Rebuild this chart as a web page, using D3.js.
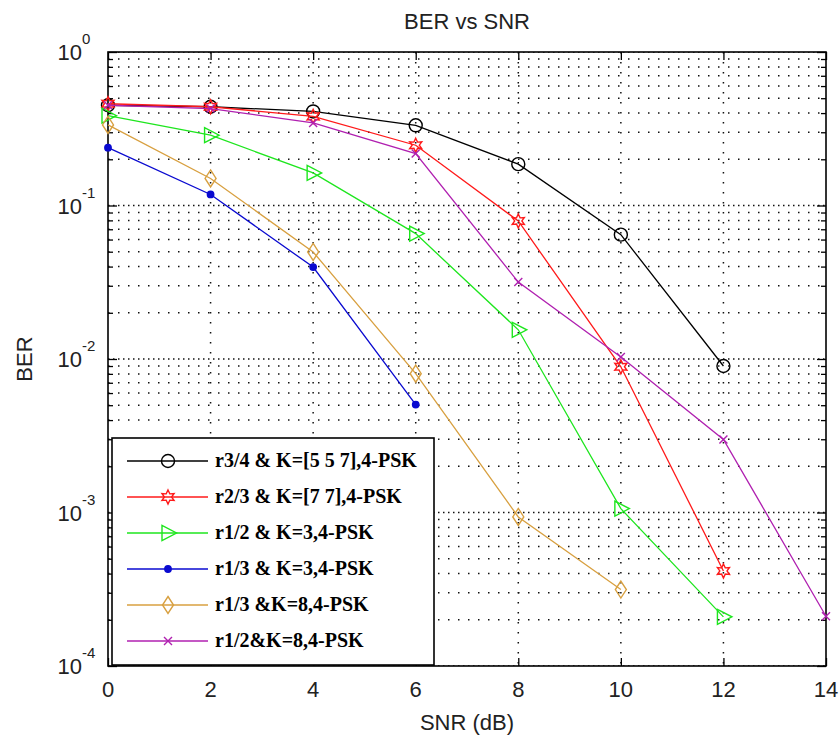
<!DOCTYPE html>
<html>
<head>
<meta charset="utf-8">
<script src="https://cdn.jsdelivr.net/npm/d3@7"></script>
<style>
  body { margin: 0; background: #fff; }
  text { font-family: "Liberation Sans", Arial, sans-serif; fill: #222; }
  .leg text { font-family: "Liberation Serif", "Times New Roman", serif; font-weight: bold; fill: #000; }
</style>
</head>
<body>
<div class="canvas"></div>
<script>
const snr = [0, 2, 4, 6, 8, 10, 12, 14];
const xTicks = [0, 2, 4, 6, 8, 10, 12, 14];
const yDecades = [1, 0.1, 0.01, 0.001, 0.0001];

// BER values (each starts at SNR 0)
const berR34K557 = [0.45, 0.44, 0.41, 0.333, 0.186, 0.0646, 0.009];
const berR23K77 = [0.46, 0.44, 0.381, 0.247, 0.0793, 0.0089, 0.000416];
const berR12K3 = [0.385, 0.287, 0.163, 0.0656, 0.0155, 0.00106, 0.000209];
const berR13K3 = [0.238, 0.118, 0.0397, 0.00505];
const berR13K8 = [0.335, 0.15, 0.0498, 0.00803, 0.000935, 0.000315];
const berR12K8 = [0.45, 0.428, 0.345, 0.218, 0.0317, 0.0103, 0.00299, 0.000211];

const labels = [
  'r3/4 & K=[5 5 7],4-PSK',
  'r2/3 & K=[7 7],4-PSK',
  'r1/2 & K=3,4-PSK',
  'r1/3 & K=3,4-PSK',
  'r1/3 &K=8,4-PSK',
  'r1/2&K=8,4-PSK'
];

const series = [
  { name: labels[0], ber: berR34K557, color: '#000000', marker: 'circle' },
  { name: labels[1], ber: berR23K77, color: '#ff1a1a', marker: 'star' },
  { name: labels[2], ber: berR12K3, color: '#1ee61e', marker: 'tri' },
  { name: labels[3], ber: berR13K3, color: '#0a0ad0', marker: 'dot' },
  { name: labels[4], ber: berR13K8, color: '#d8a040', marker: 'diamond' },
  { name: labels[5], ber: berR12K8, color: '#b020b0', marker: 'x' }
];

const W = 840, H = 742;
const pLeft = 108, pRight = 826, pTop = 52, pBottom = 666;

const svg = d3.select('.canvas').append('svg')
  .attr('width', W).attr('height', H);

const x = d3.scaleLinear().domain([0, 14]).range([pLeft, pRight]);
const y = d3.scaleLog().domain([1e-4, 1]).range([pBottom, pTop]);

const allTicks = y.ticks();
const minorTicks = allTicks.filter(v => !yDecades.some(d => Math.abs(d - v) / d < 1e-6));

svg.append('defs').append('clipPath').attr('id', 'clip')
  .append('rect').attr('x', pLeft).attr('y', pTop).attr('width', pRight - pLeft).attr('height', pBottom - pTop);

// dotted grid
const grid = svg.append('g').attr('clip-path', 'url(#clip)')
  .attr('stroke', '#111').attr('stroke-width', 1.5).attr('stroke-dasharray', '1.5 8.5');

grid.selectAll('.hg').data(allTicks).join('line')
  .attr('x1', pLeft).attr('x2', pRight)
  .attr('y1', d => y(d)).attr('y2', d => y(d));
grid.selectAll('.hg2').data(yDecades).join('line')
  .attr('x1', pLeft + 5).attr('x2', pRight)
  .attr('y1', d => y(d)).attr('y2', d => y(d));
grid.selectAll('.vg').data(xTicks.slice(1, -1)).join('line')
  .attr('y1', pTop).attr('y2', pBottom)
  .attr('x1', d => x(d)).attr('x2', d => x(d));

// ticks (inside)
const tickG = svg.append('g');
tickG.append('g').attr('transform', `translate(${pLeft},0)`)
  .call(d3.axisLeft(y).tickValues(minorTicks).tickSize(-5).tickFormat(''));
tickG.append('g').attr('transform', `translate(${pLeft},0)`)
  .call(d3.axisLeft(y).tickValues(yDecades).tickSize(-9).tickFormat(''));
tickG.append('g').attr('transform', `translate(${pRight},0)`)
  .call(d3.axisRight(y).tickValues(minorTicks).tickSize(-5).tickFormat(''));
tickG.append('g').attr('transform', `translate(${pRight},0)`)
  .call(d3.axisRight(y).tickValues(yDecades).tickSize(-9).tickFormat(''));
tickG.append('g').attr('transform', `translate(0,${pBottom})`)
  .call(d3.axisBottom(x).tickValues(xTicks).tickSize(-8).tickFormat(''));
tickG.append('g').attr('transform', `translate(0,${pTop})`)
  .call(d3.axisTop(x).tickValues(xTicks).tickSize(-8).tickFormat(''));
tickG.selectAll('.domain').remove();
tickG.selectAll('line').attr('stroke', '#000').attr('stroke-width', 1.3);

// box
svg.append('rect').attr('x', pLeft).attr('y', pTop)
  .attr('width', pRight - pLeft).attr('height', pBottom - pTop)
  .attr('fill', 'none').attr('stroke', '#000').attr('stroke-width', 1.6);

// tick labels
svg.selectAll('.xl').data(xTicks).join('text')
  .attr('x', d => x(d)).attr('y', pBottom + 31)
  .attr('text-anchor', 'middle').attr('font-size', 22)
  .text(d => d);

const yl = svg.selectAll('.yl').data(yDecades).join('g');
yl.append('text')
  .attr('x', 82).attr('y', d => y(d) + 8)
  .attr('text-anchor', 'end').attr('font-size', 22)
  .text('10');
yl.append('text')
  .attr('x', 82).attr('y', d => y(d) - 8)
  .attr('font-size', 15)
  .text(d => Math.round(Math.log10(d)));

// titles
svg.append('text').attr('x', (pLeft + pRight) / 2).attr('y', 29)
  .attr('text-anchor', 'middle').attr('font-size', 22).text('BER vs SNR');
svg.append('text').attr('x', (pLeft + pRight) / 2).attr('y', 730)
  .attr('text-anchor', 'middle').attr('font-size', 22).text('SNR (dB)');
svg.append('text').attr('transform', `translate(32,${(pTop + pBottom) / 2}) rotate(-90)`)
  .attr('text-anchor', 'middle').attr('font-size', 22).text('BER');

// markers
function star(r1, r2) {
  const pts = [];
  for (let i = 0; i < 12; i++) {
    const a = -Math.PI / 2 + i * Math.PI / 6;
    const r = i % 2 ? r2 : r1;
    pts.push([r * Math.cos(a), r * Math.sin(a)]);
  }
  return 'M' + pts.join('L') + 'Z';
}
const markerPath = {
  circle: d3.symbol(d3.symbolCircle, Math.PI * 6.5 * 6.5)(),
  star: star(7, 3.6),
  tri: 'M-6,-7.5L-6,7.5L8.5,0Z',
  dot: d3.symbol(d3.symbolCircle, Math.PI * 3.2 * 3.2)(),
  diamond: 'M0,-8.5L5.5,0L0,8.5L-5.5,0Z',
  x: 'M-4,-4L4,4M-4,4L4,-4'
};

function drawMarker(g, s) {
  const filled = s.marker === 'dot';
  g.append('path').attr('d', markerPath[s.marker])
    .attr('fill', filled ? s.color : 'none')
    .attr('stroke', s.color).attr('stroke-width', 1.4);
}

const plot = svg.append('g');
const line = d3.line().x(d => x(d[0])).y(d => y(d[1]));

series.forEach(s => {
  const pts = s.ber.map((v, i) => [snr[i], v]);
  plot.append('path').datum(pts)
    .attr('d', line).attr('fill', 'none')
    .attr('stroke', s.color).attr('stroke-width', 1.3);
  pts.forEach(p => {
    const g = plot.append('g').attr('transform', `translate(${x(p[0])},${y(p[1])})`);
    drawMarker(g, s);
  });
});

// legend
const leg = svg.append('g').attr('class', 'leg');
leg.append('rect').attr('x', 112).attr('y', 438)
  .attr('width', 322).attr('height', 227)
  .attr('fill', '#fff').attr('stroke', '#000').attr('stroke-width', 1.6);

series.forEach((s, i) => {
  const cy = 461 + i * 36;
  leg.append('line').attr('x1', 127).attr('x2', 208)
    .attr('y1', cy).attr('y2', cy)
    .attr('stroke', s.color).attr('stroke-width', 1.3);
  drawMarker(leg.append('g').attr('transform', `translate(168,${cy})`), s);
  leg.append('text').attr('x', 215).attr('y', cy + 6)
    .attr('font-size', 20).text(s.name);
});
</script>
</body>
</html>
